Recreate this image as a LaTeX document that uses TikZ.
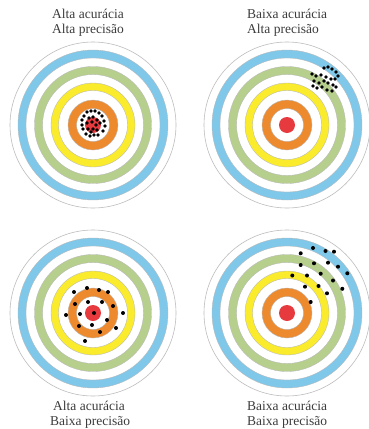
\documentclass[tikz,border=0pt]{standalone}
\usepackage{fontspec}
\setmainfont{Liberation Serif}
\definecolor{ringblue}{HTML}{80C8EA}
\definecolor{ringgreen}{HTML}{B6CF8C}
\definecolor{ringyellow}{HTML}{FAEC2C}
\definecolor{ringorange}{HTML}{EE8A2E}
\definecolor{ringred}{HTML}{E63A3E}
\definecolor{rimgray}{HTML}{BDBDBD}
\definecolor{labelgray}{HTML}{3C3C3C}
\tikzset{
  lbl/.style={anchor=base west, inner sep=0pt, text=labelgray, font=\fontsize{13.5}{15}\selectfont},
  dot/.style={fill=black},
  ringedge/.style={draw=black!28, line width=0.35pt},
  pics/target/.style={code={
    \draw[rimgray, line width=0.6pt] (0,0) circle[radius=83];
    \fill[ringblue, even odd rule, ringedge] (0,0) circle[radius=75] circle[radius=67];
    \fill[ringgreen, even odd rule, ringedge] (0,0) circle[radius=58.5] circle[radius=50.5];
    \fill[ringyellow, even odd rule, ringedge] (0,0) circle[radius=42] circle[radius=34.5];
    \fill[ringorange, even odd rule, ringedge] (0,0) circle[radius=25] circle[radius=16.5];
    \fill[ringred] (0,0) circle[radius=8];
  }}
}
\begin{document}
\begin{tikzpicture}[x=1pt,y=-1pt]
\useasboundingbox (0,0) rectangle (368,429);
\fill[white] (0,0) rectangle (368,429);

% targets
\pic at (93,125) {target};
\pic at (287,125) {target};
\pic at (93,313) {target};
\pic at (287,313) {target};

% labels
\node[lbl] (l1a) at (52,18) {Alta acurácia};
\node[lbl] (l1b) at (52,33) {Alta precisão};
\node[lbl] (l2a) at (247,18) {Baixa acurácia};
\node[lbl] (l2b) at (247,33) {Alta precisão};
\node[lbl] (l3a) at (53,410) {Alta acurácia};
\node[lbl] (l3b) at (50,425) {Baixa precisão};
\node[lbl] (l4a) at (247,410) {Baixa acurácia};
\node[lbl] (l4b) at (247,425) {Baixa precisão};

% top-left: high accuracy, high precision
\foreach \dx/\dy in {-6/-13,-2/-14,2/-14,6/-12,-9/-9,9/-9,-11/-5,11/-4,-11/0,12/1,-10/4,10/6,-7/9,-3/11,1/10,5/10,
  -4/-7,0/-8,4/-5,-6/-2,-1/-3,3/0,7/-2,-5/4,0/4,4/5,-2/7}
  \fill[dot] (93+\dx,125+\dy) circle[radius=1.9];

% top-right: low accuracy, high precision
\foreach \x/\y in {324/68,328/67,332/69,336/72,338/76,312/74,316/76,321/75,326/77,331/79,335/79,
  314/81,319/83,324/81,328/83,333/85,317/88,322/87,327/90,332/91,336/87,313/86}
  \fill[dot] (\x,\y) circle[radius=1.9];

% bottom-left: high accuracy, low precision
\foreach \x/\y in {87/288,74/292,99/290,108/292,75/304,88/302,102/302,113/306,66/315,80/314,
  94/313,123/313,79/326,92/325,107/320,100/332,116/328,85/341}
  \fill[dot] (\x,\y) circle[radius=2];

% bottom-right: low accuracy, low precision
\foreach \x/\y in {313/248,325.5/251,334/251.7,300.7/253.3,300.7/265,314/263.3,328/262.7,338/266.7,
  347.3/273.3,292.3/275.5,307/275.5,320.7/273.7,333/280.5,342.3/288.8,305/286.7,318.5/286,327/293.3,310.7/302}
  \fill[dot] (\x,\y) circle[radius=2];
\end{tikzpicture}
\end{document}
